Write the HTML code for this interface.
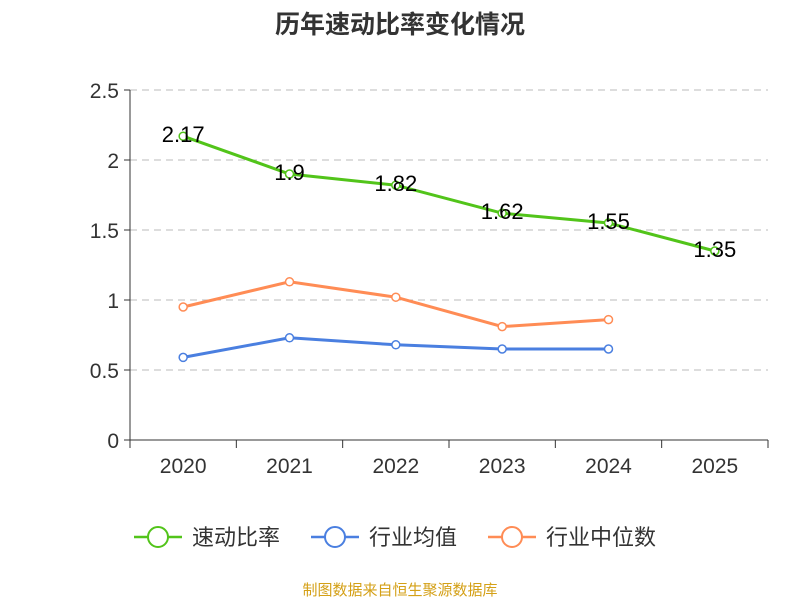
<!DOCTYPE html>
<html><head><meta charset="utf-8"><style>
body{margin:0;background:#fff;}
svg text{font-family:"Liberation Sans","Noto Sans CJK SC",sans-serif;}
</style></head><body>
<svg id="chart" width="800" height="600">
<text x="400" y="33" text-anchor="middle" font-size="25" font-weight="bold" fill="#333">历年速动比率变化情况</text>
<g id="grid"></g><g id="axes"></g><g id="series"></g>
<g>
<g><line x1="134" y1="537" x2="182" y2="537" stroke="#52c41a" stroke-width="2.5"/><circle cx="158" cy="537" r="10" fill="#fff" stroke="#52c41a" stroke-width="2"/><text x="192" y="545" font-size="22" fill="#333">速动比率</text></g>
<g><line x1="311" y1="537" x2="359" y2="537" stroke="#4a7fe0" stroke-width="2.5"/><circle cx="335" cy="537" r="10" fill="#fff" stroke="#4a7fe0" stroke-width="2"/><text x="369" y="545" font-size="22" fill="#333">行业均值</text></g>
<g><line x1="488" y1="537" x2="536" y2="537" stroke="#ff8c55" stroke-width="2.5"/><circle cx="512" cy="537" r="10" fill="#fff" stroke="#ff8c55" stroke-width="2"/><text x="546" y="545" font-size="22" fill="#333">行业中位数</text></g>
</g>
<text x="400" y="595" text-anchor="middle" font-size="15" fill="#d4a017">制图数据来自恒生聚源数据库</text>
</svg>
<script>
const categories=["2020","2021","2022","2023","2024","2025"];
const quickRatio=[2.17,1.9,1.82,1.62,1.55,1.35];
const industryMean=[0.59,0.73,0.68,0.65,0.65];
const industryMedian=[0.95,1.13,1.02,0.81,0.86];
const yTicks=[0,0.5,1,1.5,2,2.5];
const NS="http://www.w3.org/2000/svg";
const x0=130,x1=768,y0=440,yTop=90,yMax=2.5;
const bw=(x1-x0)/categories.length;
const xs=i=>x0+bw*(i+0.5);
const ys=v=>y0-(v/yMax)*(y0-yTop);
function mk(tag,attrs,parent){const e=document.createElementNS(NS,tag);for(const k in attrs)e.setAttribute(k,attrs[k]);parent.appendChild(e);return e;}
const grid=document.getElementById('grid'),axes=document.getElementById('axes'),ser=document.getElementById('series');
yTicks.forEach(t=>{
 if(t>0){const g=mk('line',{x1:x0,x2:x1,y1:ys(t),y2:ys(t),stroke:'#bbb','stroke-dasharray':'7,5'},grid);
 
 }
 const tk=mk('line',{x1:x0-6,x2:x0,y1:ys(t),y2:ys(t),stroke:'#333'},axes);
 
 
 const l=mk('text',{x:x0-11,y:ys(t)+8,'text-anchor':'end','font-size':'21',fill:'#333'},axes);l.textContent=t;
 
 
});
const ya=mk('line',{x1:x0,x2:x0,y1:yTop,y2:y0,stroke:'#333'},axes);


const xa=mk('line',{x1:x0,x2:x1,y1:y0,y2:y0,stroke:'#333'},axes);


for(let i=0;i<=categories.length;i++){const t=mk('line',{x1:x0+bw*i,x2:x0+bw*i,y1:y0,y2:y0+8,stroke:'#333'},axes);
 
 }
categories.forEach((c,i)=>{const l=mk('text',{x:xs(i),y:y0+33,'text-anchor':'middle','font-size':'21',fill:'#333'},axes);l.textContent=c;
 
 });
function series(vals,color,name,labels){
 const g=mk('g',{},ser);
 
 
 mk('polyline',{points:vals.map((v,i)=>xs(i)+','+ys(v)).join(' '),fill:'none',stroke:color,'stroke-width':3},g);
 vals.forEach((v,i)=>{const c=mk('circle',{cx:xs(i),cy:ys(v),r:4,fill:'#fff',stroke:color,'stroke-width':1.5},g);
  
  
  if(labels){const t=mk('text',{x:xs(i),y:ys(v)+6,'text-anchor':'middle','font-size':'22',fill:'#000'},g);t.textContent=v;
  
  }});
}
series(industryMean,'#4a7fe0','industry-mean-line',false);
series(industryMedian,'#ff8c55','industry-median-line',false);
series(quickRatio,'#52c41a','quick-ratio-line',true);
</script>
</body></html>
